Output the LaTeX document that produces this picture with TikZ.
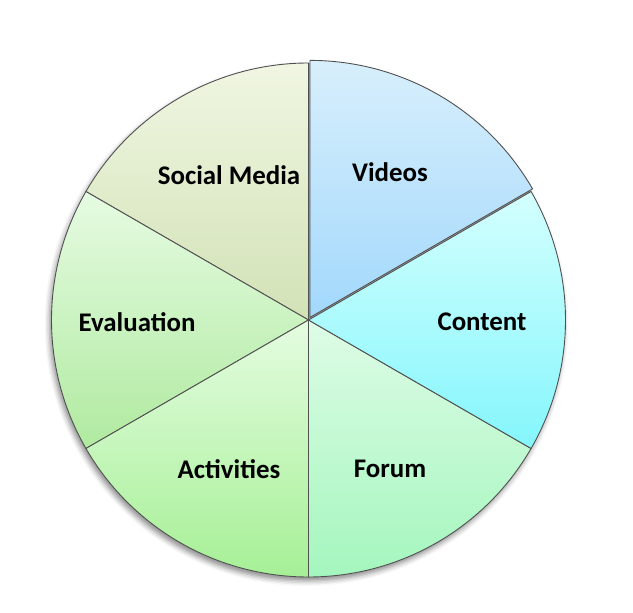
\documentclass[tikz,border=0pt]{standalone}
\usepackage{fontspec}
\setmainfont{Carlito}
\usetikzlibrary{shadows.blur,calc}

% slice colours (top / bottom of each vertical shading)
\definecolor{vidTop}{HTML}{D8EFFC}
\definecolor{vidBot}{HTML}{A2D8FC}
\definecolor{conTop}{HTML}{D4FFFE}
\definecolor{conBot}{HTML}{84F6FC}
\definecolor{forTop}{HTML}{DEFCE6}
\definecolor{forBot}{HTML}{A4F6BE}
\definecolor{actTop}{HTML}{E4FCE0}
\definecolor{actBot}{HTML}{A6F096}
\definecolor{evaTop}{HTML}{E6FBE2}
\definecolor{evaBot}{HTML}{B0EAA0}
\definecolor{socTop}{HTML}{F0F6E2}
\definecolor{socBot}{HTML}{D2E2B6}
\definecolor{edge}{HTML}{505050}

\tikzset{
  slice/.style={draw=edge, line width=0.9bp, line join=round},
  label/.style={font=\fontsize{27}{30}\selectfont\bfseries, text=black, inner sep=0pt}
}

\newcommand{\pieslice}[5]{% centre, start, end, top colour, bottom colour
  \path[slice, top color=#4, bottom color=#5]
    (#1) -- ++(#2:\R) arc[start angle=#2, end angle=#3, radius=\R] -- cycle;
}

\begin{document}
\begin{tikzpicture}[x=1bp,y=1bp]
\useasboundingbox (0,0) rectangle (633,613);
\def\R{257}
\coordinate (O) at (308.5,293);
\coordinate (Ov) at ($(O)+(60:3)$);

% soft shadow under the whole pie
\fill[white, blur shadow={shadow xshift=-2bp, shadow yshift=-4bp, shadow blur radius=5bp, shadow opacity=45}]
  (O) circle[radius=\R];

% gap behind the pulled-out slice
\fill[gray!70] (O) -- ++(28:\R) arc[start angle=28, end angle=92, radius=\R] -- cycle;

\pieslice{O}{90}{150}{socTop}{socBot}
\pieslice{O}{150}{210}{evaTop}{evaBot}
\pieslice{O}{210}{270}{actTop}{actBot}
\pieslice{O}{270}{330}{forTop}{forBot}
\pieslice{O}{-30}{30}{conTop}{conBot}
\pieslice{Ov}{30}{90}{vidTop}{vidBot}

\node[label] (videos)  at (390,441) {Videos};
\node[label] (social)  at (229,438) {Social Media};
\node[label] (eval)    at (137,291) {Evaluation};
\node[label] (content) at (482,291) {Content};
\node[label] (acts)    at (229,144) {Activities};
\node[label] (forum)   at (390,144) {Forum};
\end{tikzpicture}
\end{document}
